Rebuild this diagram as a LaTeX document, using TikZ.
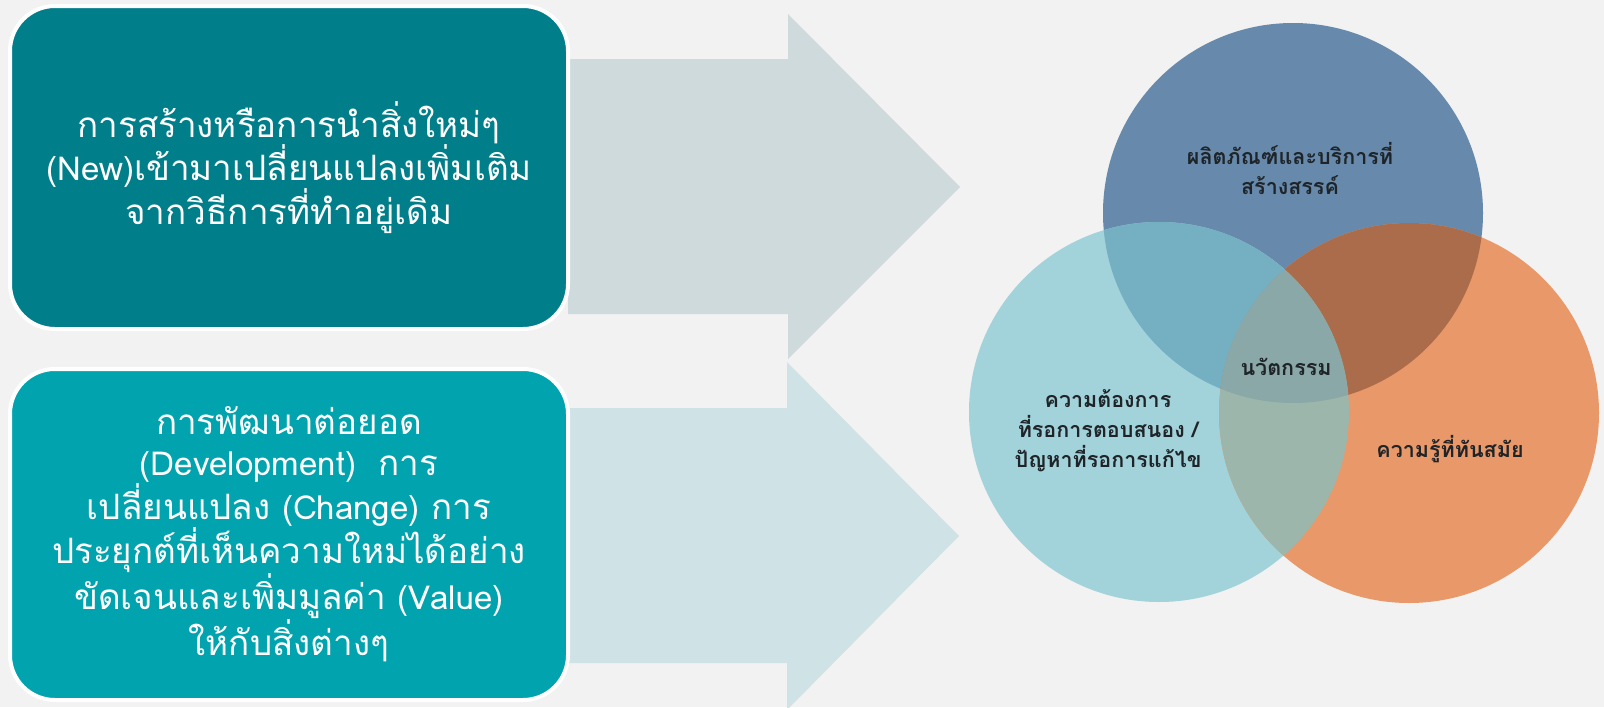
\documentclass[tikz,border=0pt]{standalone}
\usepackage{fontspec}
\newfontfamily\thaifont[Script=Thai]{Loma}
\newcommand{\latpart}[1]{{\fontsize{33pt}{41pt}\selectfont #1}}
\definecolor{bgc}{HTML}{F2F2F2}
\definecolor{boxtop}{HTML}{007E8A}
\definecolor{boxbot}{HTML}{00A3AE}
\definecolor{arrtop}{HTML}{CFDADC}
\definecolor{arrbot}{HTML}{CFE2E5}
\definecolor{cblue}{HTML}{6689AC}
\definecolor{clight}{HTML}{A3D3DA}
\definecolor{corange}{HTML}{E99869}
\definecolor{cbl}{HTML}{74B0C2}
\definecolor{cbo}{HTML}{AA6C4A}
\definecolor{clo}{HTML}{9CB6AC}
\definecolor{cblo}{HTML}{8AA8A8}
\definecolor{vtxt}{HTML}{1E2428}
\begin{document}
\begin{tikzpicture}[x=1pt,y=-1pt,
  textbox/.style={draw=white, line width=4pt, rounded corners=45pt, align=center,
    text=white, inner sep=0pt,
    font={\thaifont\fontsize{35pt}{41pt}\selectfont}},
  vtext/.style={align=center, text=vtxt, inner sep=0pt,
    font={\thaifont\bfseries\fontsize{21.5pt}{30pt}\selectfont}}]
\useasboundingbox (0,0) rectangle (1604,707);
\fill[bgc] (0,0) rectangle (1604,707);
% arrows
\fill[arrtop] (568,59) -- (788,59) -- (788,14) -- (960,187) -- (788,359) -- (788,314) -- (568,314) -- cycle;
\fill[arrbot] (568,408) -- (787,408) -- (787,362) -- (959,536) -- (787,710) -- (787,663) -- (568,663) -- cycle;
% boxes
\node[textbox, fill=boxtop, minimum width=558pt, minimum height=323pt] (top) at (289,167.5)
  {การสร้างหรือการนำสิ่งใหม่ๆ\\\latpart{(New)}เข้ามาเปลี่ยนแปลงเพิ่มเติม\\จากวิธีการที่ทำอยู่เดิม};
\node[textbox, fill=boxbot, minimum width=558pt, minimum height=331pt] (bot) at (289,534.5)
  {การพัฒนาต่อยอด\\\latpart{(Development)\ \ }การ\\เปลี่ยนแปลง \latpart{(Change)} การ\\ประยุกต์ที่เห็นความใหม่ได้อย่าง\\ขัดเจนและเพิ่มมูลค่า \latpart{(Value)}\\ให้กับสิ่งต่างๆ};
% venn
\coordinate (cB) at (1293,213);
\coordinate (cL) at (1159,412);
\coordinate (cO) at (1409,413);
\fill[cblue] (cB) circle (190pt);
\fill[clight] (cL) circle (190pt);
\fill[corange] (cO) circle (190pt);
\begin{scope}
  \clip (cB) circle (190pt);
  \fill[cbl] (cL) circle (190pt);
  \fill[cbo] (cO) circle (190pt);
\end{scope}
\begin{scope}
  \clip (cL) circle (190pt);
  \fill[clo] (cO) circle (190pt);
  \clip (cB) circle (190pt);
  \fill[cblo] (cO) circle (190pt);
\end{scope}
\node[vtext] (tB) at (1290,168) {ผลิตภัณฑ์และบริการที่\\สร้างสรรค์};
\node[vtext] (tC) at (1286,367) {นวัตกรรม};
\node[vtext] (tL) at (1108,431) {ความต้องการ\\ที่รอการตอบสนอง /\\ปัญหาที่รอการแก้ไข};
\node[vtext] (tO) at (1450,449) {ความรู้ที่ทันสมัย};
\end{tikzpicture}
\end{document}
